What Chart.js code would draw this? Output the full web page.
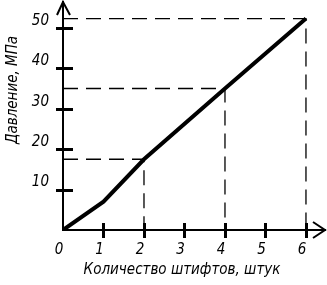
<!DOCTYPE html>
<html>
<head>
<meta charset="utf-8">
<script src="https://cdn.jsdelivr.net/npm/chart.js@4/dist/chart.umd.min.js"></script>
<style>
  body { margin: 0; background: #fff; }
  canvas { display: block; }
</style>
</head>
<body>
<canvas id="myChart" width="327" height="285"></canvas>
<script>
// data
const pinCounts = [0, 1, 2, 4, 6];
const pressures = [0, 7, 17.5, 35, 52.3];
const markedPoints = [2, 3, 4];          // indices of points with dashed guides
const xTickValues = [0, 1, 2, 3, 4, 5, 6];
const yTickValues = [0, 10, 20, 30, 40, 50];
const xTitle = 'Количество штифтов, штук';
const yTitle = 'Давление, МПа';

const FONT = 'Liberation Sans Narrow, DejaVu Sans Condensed, Liberation Sans, sans-serif';

const ctx = document.getElementById('myChart');

var datasets = [{
  data: pinCounts.map((x, i) => ({ x: x, y: pressures[i] })),
  showLine: true,
  borderColor: '#000',
  borderWidth: 4,
  pointRadius: 0,
  tension: 0
}];

markedPoints.forEach(function (i) {
  datasets.push({
    data: [
      { x: 0, y: pressures[i] },
      { x: pinCounts[i], y: pressures[i] },
      { x: pinCounts[i], y: 0 }
    ],
    showLine: true,
    borderColor: '#000',
    borderWidth: 1.3,
    borderDash: [15, 8],
    pointRadius: 0
  });
});

// cross ticks, arrows and axis titles
var axisDecor = {
  id: 'axisDecor',
  afterDraw(chart) {
    const c = chart.ctx;
    const xs = chart.scales.x, ys = chart.scales.y;
    const area = chart.chartArea;
    const ox = xs.getPixelForValue(0), oy = ys.getPixelForValue(0);
    c.save();
    c.strokeStyle = '#000';
    c.lineWidth = 3;
    xTickValues.forEach(function (v) {
      if (v === 0) return;
      const px = Math.round(xs.getPixelForValue(v)) + 0.5;
      c.beginPath(); c.moveTo(px, oy - 7); c.lineTo(px, oy + 8); c.stroke();
    });
    yTickValues.forEach(function (v) {
      if (v === 0) return;
      const py = Math.round(ys.getPixelForValue(v)) + 0.5;
      c.beginPath(); c.moveTo(ox - 7, py); c.lineTo(ox + 10, py); c.stroke();
    });
    c.lineWidth = 2;
    c.beginPath();
    c.moveTo(ox - 6, area.top + 13); c.lineTo(ox, area.top); c.lineTo(ox + 7, area.top + 13);
    c.stroke();
    c.beginPath();
    c.moveTo(area.right - 12, oy - 8); c.lineTo(area.right, oy); c.lineTo(area.right - 12, oy + 8);
    c.stroke();

    c.fillStyle = '#000';
    c.font = 'italic 15px ' + FONT;
    c.textAlign = 'center';
    c.textBaseline = 'middle';
    c.fillText(xTitle, 182, 270);
    c.translate(13, 90);
    c.rotate(-Math.PI / 2);
    c.fillText(yTitle, 0, 0);
    c.restore();
  }
};

var config = {
  type: 'scatter',
  data: { datasets: datasets },
  options: {
    responsive: false,
    animation: false,
    layout: { padding: { top: 2, right: 2, left: 0, bottom: 0 } },
    plugins: { legend: { display: false }, tooltip: { enabled: false } },
    scales: {
      x: {
        type: 'linear',
        min: 0,
        max: 6.47,
        afterFit(s) { s.height = 55; s.paddingLeft = 0; s.paddingRight = 0; },
        afterBuildTicks(s) { s.ticks = xTickValues.map(v => ({ value: v })); },
        grid: { display: false, drawTicks: false },
        border: { display: true, color: '#000', width: 2 },
        ticks: {
          color: '#000',
          padding: 11,
          labelOffset: -4,
          maxRotation: 0,
          font: { family: FONT, size: 15, style: 'italic' }
        }
      },
      y: {
        type: 'linear',
        min: 0,
        max: 56.4,
        afterFit(s) { s.width = 63; s.paddingTop = 0; s.paddingBottom = 0; },
        afterBuildTicks(s) { s.ticks = yTickValues.map(v => ({ value: v })); },
        grid: { display: false, drawTicks: false },
        border: { display: true, color: '#000', width: 2 },
        ticks: {
          color: '#000',
          padding: 14,
          labelOffset: -7,
          font: { family: FONT, size: 15, style: 'italic' },
          callback: v => (v === 0 ? '' : v)
        }
      }
    }
  },
  plugins: [axisDecor]
};

var chart = new Chart(ctx, config);
</script>
</body>
</html>
